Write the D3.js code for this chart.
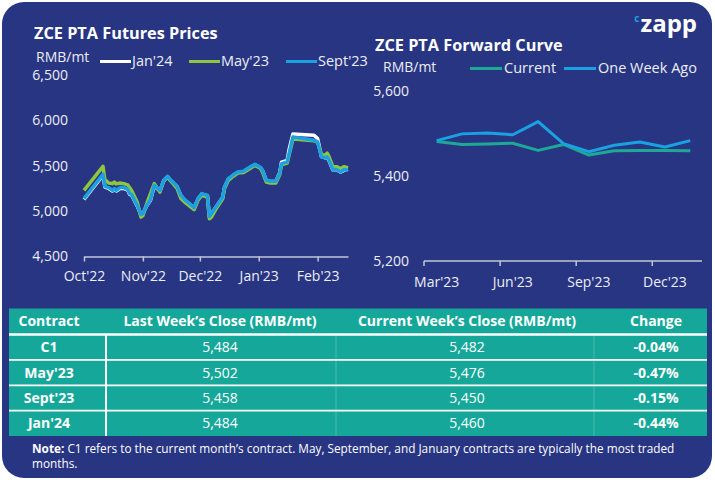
<!DOCTYPE html>
<html><head><meta charset="utf-8">
<script src="https://cdn.jsdelivr.net/npm/d3@7"></script>
<style>
html,body{margin:0;padding:0;background:#fff;}
svg{display:block;font-family:"Open Sans",sans-serif;}
</style></head><body>
<svg id="c" width="715" height="480"></svg>
<script>
// ---------- DATA ----------
const futDates = ["2022-10-01","2022-10-11","2022-10-12","2022-10-14","2022-10-16","2022-10-17","2022-10-18","2022-10-20","2022-10-22","2022-10-24","2022-10-25","2022-10-26","2022-10-29","2022-10-31",
"2022-11-01","2022-11-03","2022-11-05","2022-11-07","2022-11-10","2022-11-12","2022-11-14","2022-11-15","2022-11-19","2022-11-21","2022-11-23","2022-11-26","2022-11-28","2022-11-30",
"2022-12-02","2022-12-05","2022-12-06","2022-12-07","2022-12-10","2022-12-13","2022-12-14","2022-12-16","2022-12-19","2022-12-21","2022-12-24","2022-12-27","2022-12-30",
"2023-01-02","2023-01-03","2023-01-05","2023-01-07","2023-01-10","2023-01-12","2023-01-13","2023-01-16","2023-01-17","2023-01-19","2023-01-30",
"2023-02-01","2023-02-03","2023-02-05","2023-02-06","2023-02-07","2023-02-09","2023-02-11","2023-02-13","2023-02-15","2023-02-17"];
const jan24 = [5130,5395,5265,5250,5222,5240,5222,5250,5250,5232,5186,5178,5058,4960,
4968,5058,5120,5278,5222,5335,5380,5352,5268,5170,5122,5070,5034,5132,
5188,5170,4940,4968,5058,5150,5262,5352,5400,5426,5434,5475,5512,
5476,5446,5336,5326,5326,5420,5540,5560,5680,5851,5837,
5800,5600,5588,5594,5556,5456,5456,5430,5452,5460];
const may23 = [5229,5494,5347,5310,5303,5321,5300,5310,5303,5290,5259,5230,5100,4934,
4950,5080,5193,5303,5210,5340,5376,5350,5250,5140,5100,5050,5016,5120,
5174,5155,4917,4930,5040,5135,5250,5340,5390,5420,5425,5465,5505,
5470,5430,5320,5310,5310,5400,5510,5530,5620,5795,5775,
5760,5620,5615,5640,5600,5490,5490,5470,5490,5476];
const sep23 = [5137,5406,5273,5259,5229,5248,5229,5259,5259,5240,5193,5185,5063,4964,
4972,5063,5126,5285,5229,5340,5384,5358,5273,5174,5126,5075,5038,5137,
5193,5174,4942,4972,5063,5155,5266,5358,5406,5431,5439,5480,5516,
5480,5450,5340,5329,5329,5414,5524,5542,5635,5818,5782,
5763,5597,5590,5597,5561,5458,5458,5431,5458,5450];
const futYTicks = [4500,5000,5500,6000,6500];
const futXTicks = ["2022-10-01","2022-11-01","2022-12-01","2023-01-01","2023-02-01"];
const futXTickLabels = ["Oct'22","Nov'22","Dec'22","Jan'23","Feb'23"];
const futSeriesNames = ["Jan'24","May'23","Sept'23"];

const fwdMonths = ["Mar'23","Apr'23","May'23","Jun'23","Jul'23","Aug'23","Sep'23","Oct'23","Nov'23","Dec'23","Jan'24"];
const fwdCurrent = [5482,5475,5476,5478,5461,5475,5450,5460,5461,5461,5460];
const fwdWeekAgo = [5484,5500,5502,5498,5529,5477,5458,5473,5481,5469,5484];
const fwdYTicks = [5200,5400,5600];
const fwdXLabels = ["Mar'23","Jun'23","Sep'23","Dec'23"];
const fwdSeriesNames = ["Current","One Week Ago"];

const tblHeaders = ["Contract","Last Week\u2019s Close (RMB/mt)","Current Week\u2019s Close (RMB/mt)","Change"];
const tblContracts = ["C1","May'23","Sept'23","Jan'24"];
const tblLastWeek = [5484,5502,5458,5484];
const tblCurrent = [5482,5476,5450,5460];
const tblChange = ["-0.04%","-0.47%","-0.15%","-0.44%"];

// ---------- STYLE ----------
const NAVY = "#283582", TEAL = "#15a89a", WHITE = "#ffffff", GREEN = "#8dc63f", BLUE = "#1ba1e2", CUR = "#1ea896";
const AXIS = "#c3c6d6", TXT = "#eceef5";
const svg = d3.select("#c");
const parse = d3.timeParse("%Y-%m-%d");
const fmt = d3.format(",");

svg.append("rect").attr("x",2).attr("y",2).attr("width",710).attr("height",476).attr("rx",22).attr("fill",NAVY);

// logo
const logo = svg.append("text").attr("x",697).attr("y",32).attr("text-anchor","end");
logo.append("tspan").attr("font-size",10).attr("font-weight",700).attr("fill",BLUE).attr("dy",-10).attr("dx",0).text("c");
logo.append("tspan").attr("font-size",24).attr("font-weight",700).attr("fill",WHITE).attr("dy",10).attr("dx",1).text("zapp");

// ---------- LEFT CHART ----------
svg.append("text").attr("x",34).attr("y",38.5).attr("fill",WHITE).attr("font-size",16.3).attr("font-weight",700).text("ZCE PTA Futures Prices");
svg.append("text").attr("x",36).attr("y",62).attr("fill",TXT).attr("font-size",14).text("RMB/mt");
const fx = d3.scaleTime().domain([parse(futDates[0]), parse(futDates[futDates.length-1])]).range([84,348]);
const fy = d3.scaleLinear().domain([4500,6500]).range([256.5,75]);

const fxAxis = svg.append("g").attr("transform","translate(0,256.5)")
  .call(d3.axisBottom(fx).tickValues(futXTicks.map(parse)).tickFormat((d,i)=>futXTickLabels[i]).tickSize(5).tickSizeOuter(0));
fxAxis.select(".domain").attr("stroke",AXIS).attr("stroke-width",1.5);
fxAxis.selectAll(".tick line").attr("stroke",AXIS).attr("stroke-width",1.5);
fxAxis.selectAll(".tick text").attr("fill",TXT).attr("font-size",14).attr("font-family","Open Sans").attr("y",15);

const fyAxis = svg.append("g").attr("transform","translate(68,0)")
  .call(d3.axisLeft(fy).tickValues(futYTicks).tickFormat(fmt).tickSize(0).tickPadding(0));
fyAxis.select(".domain").remove();
fyAxis.selectAll(".tick text").attr("fill",TXT).attr("font-size",14).attr("font-family","Open Sans");

const futSeries = [jan24, may23, sep23];
const futColors = [WHITE, GREEN, BLUE];
const fline = d3.line().x((d,i)=>fx(parse(futDates[i]))).y(d=>fy(d)).curve(d3.curveLinear);
futSeries.forEach((s,k)=>{
  svg.append("path").attr("d",fline(s)).attr("fill","none").attr("stroke",futColors[k]).attr("stroke-width",3.5).attr("stroke-linejoin","round");
});
// legend
const futLegX = [100,189,286];
futSeriesNames.forEach((n,k)=>{
  svg.append("line").attr("x1",futLegX[k]).attr("x2",futLegX[k]+31).attr("y1",61.5).attr("y2",61.5).attr("stroke",futColors[k]).attr("stroke-width",3);
  svg.append("text").attr("x",futLegX[k]+32).attr("y",66).attr("fill",TXT).attr("font-size",14.5).text(n);
});

// ---------- RIGHT CHART ----------
svg.append("text").attr("x",375).attr("y",51).attr("fill",WHITE).attr("font-size",16.3).attr("font-weight",700).text("ZCE PTA Forward Curve");
svg.append("text").attr("x",383).attr("y",72).attr("fill",TXT).attr("font-size",14).text("RMB/mt");
const rx = d3.scaleBand().domain(fwdMonths).range([424,703]).padding(0);
const ry = d3.scaleLinear().domain([5200,5600]).range([261,91.5]);
const ra = svg.append("g");
ra.append("line").attr("x1",424).attr("x2",702).attr("y1",261).attr("y2",261).attr("stroke",AXIS).attr("stroke-width",1.5);
fwdXLabels.forEach(m=>{
  const x0 = rx(m);
  ra.append("line").attr("x1",x0).attr("x2",x0).attr("y1",261).attr("y2",266).attr("stroke",AXIS).attr("stroke-width",1.5);
  ra.append("text").attr("x",x0+rx.bandwidth()/2).attr("y",287).attr("text-anchor","middle").attr("fill",TXT).attr("font-size",14).text(m);
});
const ryAxis = svg.append("g").attr("transform","translate(409,0)")
  .call(d3.axisLeft(ry).tickValues(fwdYTicks).tickFormat(fmt).tickSize(0).tickPadding(0));
ryAxis.select(".domain").remove();
ryAxis.selectAll(".tick text").attr("fill",TXT).attr("font-size",14).attr("font-family","Open Sans");

const rline = d3.line().x((d,i)=>rx(fwdMonths[i])+rx.bandwidth()/2).y(d=>ry(d));
const fwdSeries = [fwdCurrent, fwdWeekAgo];
const fwdColors = [CUR, BLUE];
fwdSeries.forEach((s,k)=>{
  svg.append("path").attr("d",rline(s)).attr("fill","none").attr("stroke",fwdColors[k]).attr("stroke-width",3).attr("stroke-linejoin","round");
});
const fwdLegX = [470,564];
fwdSeriesNames.forEach((n,k)=>{
  svg.append("line").attr("x1",fwdLegX[k]).attr("x2",fwdLegX[k]+32).attr("y1",68.5).attr("y2",68.5).attr("stroke",fwdColors[k]).attr("stroke-width",3);
  svg.append("text").attr("x",fwdLegX[k]+34).attr("y",73).attr("fill",TXT).attr("font-size",14.5).text(n);
});

// ---------- TABLE ----------
const T = {x:9, y:308.5, w:698, h:127.5, head:26, row:25.4};
svg.append("rect").attr("x",T.x).attr("y",T.y).attr("width",T.w).attr("height",T.h).attr("fill",TEAL);
const colC = [49,220,467,656];
[336,594].forEach(x=>svg.append("line").attr("x1",x).attr("x2",x).attr("y1",T.y+T.head).attr("y2",T.y+T.h).attr("stroke","#ffffff").attr("stroke-opacity",0.22).attr("stroke-width",1));
svg.append("line").attr("x1",106).attr("x2",106).attr("y1",T.y+T.head).attr("y2",T.y+T.h).attr("stroke",WHITE).attr("stroke-width",2);
svg.append("line").attr("x1",T.x).attr("x2",T.x+T.w).attr("y1",T.y+T.head).attr("y2",T.y+T.head).attr("stroke",WHITE).attr("stroke-width",2.5);
for(let r=1;r<tblContracts.length;r++){
  const y = T.y+T.head+r*T.row;
  svg.append("line").attr("x1",T.x).attr("x2",T.x+T.w).attr("y1",y).attr("y2",y).attr("stroke",WHITE).attr("stroke-width",1.8);
}
tblHeaders.forEach((h,i)=>{
  svg.append("text").attr("x",colC[i]).attr("y",T.y+T.head/2).attr("dy","0.35em").attr("text-anchor","middle")
    .attr("fill",WHITE).attr("font-size",14).attr("font-weight",700).text(h);
});
tblContracts.forEach((c,r)=>{
  const yc = T.y+T.head+r*T.row+T.row/2;
  const cells = [c, fmt(tblLastWeek[r]), fmt(tblCurrent[r]), tblChange[r]];
  cells.forEach((v,i)=>{
    svg.append("text").attr("x",colC[i]).attr("y",yc).attr("dy","0.35em").attr("text-anchor","middle")
      .attr("fill",WHITE).attr("font-size",14).attr("font-weight",(i===0||i===3)?700:400).text(v);
  });
});
// note
const note1 = svg.append("text").attr("x",32).attr("y",453).attr("fill",WHITE).attr("font-size",11.8);
note1.append("tspan").attr("font-weight",700).text("Note:");
note1.append("tspan").text(" C1 refers to the current month\u2019s contract. May, September, and January contracts are typically the most traded");
svg.append("text").attr("x",32).attr("y",468).attr("fill",WHITE).attr("font-size",11.8).text("months.");
</script>
</body></html>
